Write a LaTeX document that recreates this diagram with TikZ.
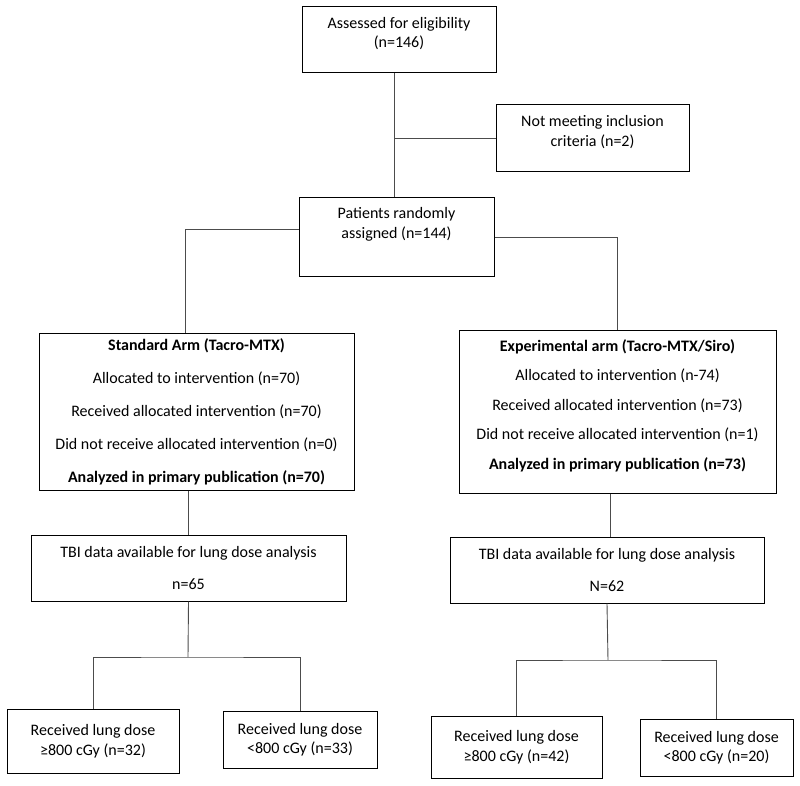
\documentclass[tikz,border=0pt]{standalone}
\usepackage{fontspec}
\setmainfont{Carlito}
\usepackage{tikz}

\begin{document}
\begin{tikzpicture}[x=1pt,y=-1pt,
    box/.style={draw,line width=1pt,align=center,inner sep=2pt,
      font=\fontsize{16}{19.5}\selectfont},
    link/.style={draw=black!70,line width=.9pt}]
  \useasboundingbox (0,0) rectangle (800,786);
  % screening
  \node[box,minimum width=194,minimum height=66,text depth=15pt] (assess) at (399,40)
    {Assessed for eligibility\\(n=146)};
  \node[box,minimum width=193,minimum height=67,text depth=15pt] (excl) at (592.5,138.5)
    {Not meeting inclusion\\criteria (n=2)};
  \node[box,minimum width=195,minimum height=79,text depth=29pt] (rand) at (396.5,237.5)
    {Patients randomly\\assigned (n=144)};
  \coordinate (trunk) at ([xshift=-5]assess.south);
  % the two arms
  \node[box,minimum width=315,minimum height=157] (std) at (196.5,411.5)
    {\textbf{Standard Arm (Tacro-MTX)}\\[13.5pt]
     Allocated to intervention (n=70)\\[13.5pt]
     Received allocated intervention (n=70)\\[13.5pt]
     Did not receive allocated intervention (n=0)\\[13.5pt]
     \textbf{Analyzed in primary publication (n=70)}};
  \node[box,minimum width=317,minimum height=163,text depth=14pt] (exp) at (617.5,411.5)
    {\textbf{Experimental arm (Tacro-MTX/Siro)}\\[10pt]
     Allocated to intervention (n-74)\\[10pt]
     Received allocated intervention (n=73)\\[10pt]
     Did not receive allocated intervention (n=1)\\[10pt]
     \textbf{Analyzed in primary publication (n=73)}};
  % TBI data
  \node[box,minimum width=315,minimum height=66] (tbiL) at (188.5,568)
    {TBI data available for lung dose analysis\\[13pt]n=65};
  \node[box,minimum width=314,minimum height=66] (tbiR) at (607,570)
    {TBI data available for lung dose analysis\\[13pt]N=62};
  % lung dose
  \node[box,minimum width=172,minimum height=64] (doseA) at (93,741)
    {Received lung dose\\≥800 cGy (n=32)};
  \node[box,minimum width=154,minimum height=57] (doseB) at (300,739.5)
    {Received lung dose\\<800 cGy (n=33)};
  \node[box,minimum width=171,minimum height=62] (doseC) at (516.5,747)
    {Received lung dose\\≥800 cGy (n=42)};
  \node[box,minimum width=153,minimum height=57] (doseD) at (716.5,747.5)
    {Received lung dose\\<800 cGy (n=20)};
  \coordinate (splitL) at (188,657);
  \coordinate (splitR) at (608,660);

  \path[link] (trunk) -- (trunk |- rand.north);
  \path[link] (excl.west) -- (excl.west -| trunk);
  \path[link] ([yshift=8]rand.west) -| ([xshift=-11]std.north);
  \path[link] (rand.east) -| (exp.north);
  \path[link] (tbiL.north |- std.south) -- (tbiL.north);
  \path[link] ([xshift=-7]exp.south) -- ([xshift=-7]exp.south |- tbiR.north);
  \path[link] (tbiL.south) -- (splitL);
  \path[link] (doseA.north) |- (splitL) -| (doseB.north);
  \path[link] (tbiR.south) -- (splitR);
  \path[link] (doseC.north) |- (splitR) -| (doseD.north);
\end{tikzpicture}
\end{document}
